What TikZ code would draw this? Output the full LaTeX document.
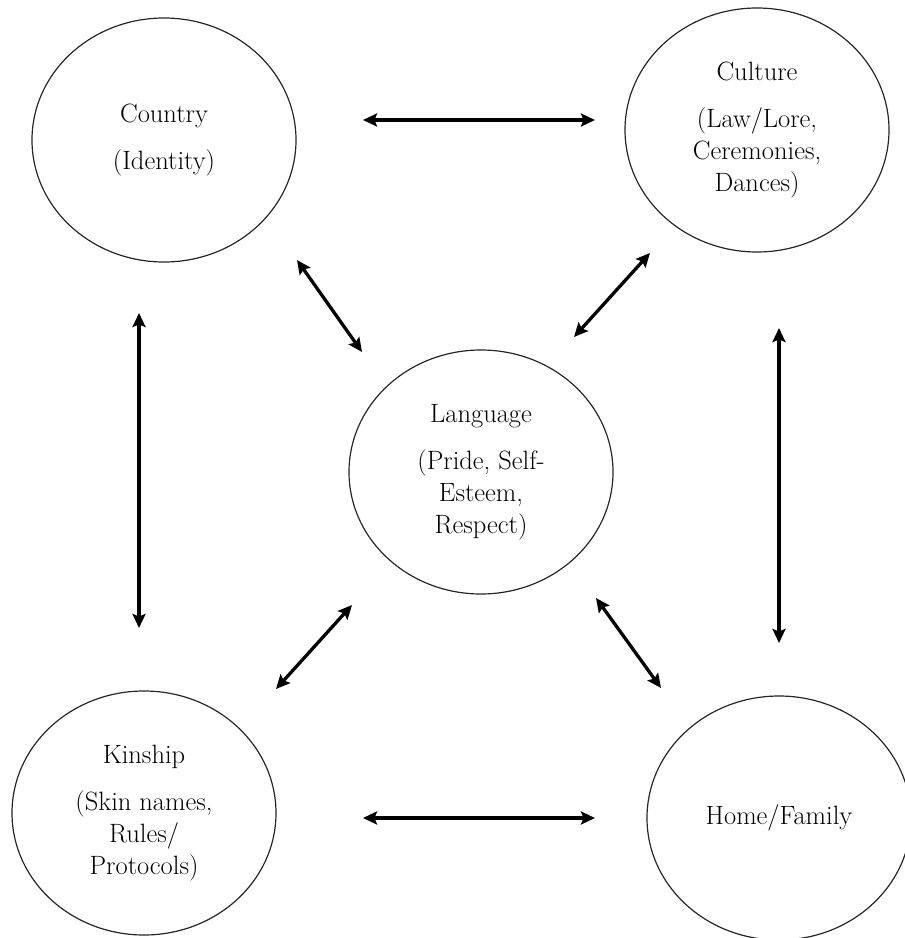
\documentclass[tikz,border=0pt]{standalone}
\usetikzlibrary{shapes.geometric,arrows.meta}
\begin{document}
\begin{tikzpicture}[x=1pt,y=-1pt,
  bubble/.style={ellipse,draw=black!85,line width=1.2pt,minimum width=264pt,minimum height=244pt,inner sep=0pt,align=center,font=\fontsize{26.5}{32}\selectfont},
  biarrow/.style={{Stealth[length=14pt,width=13pt,inset=2.5pt]}-{Stealth[length=14pt,width=13pt,inset=2.5pt]},line width=3.3pt}]
\useasboundingbox (0,0) rectangle (905,938);
\clip (0,0) rectangle (905,938);
\node[bubble] (country) at (164,140) {Country\\[15pt](Identity)};
\node[bubble] (culture) at (757,130) {Culture\\[15pt](Law/Lore,\\Ceremonies,\\Dances)};
\node[bubble] (language) at (481,472) {Language\\[15pt](Pride, Self-\\Esteem,\\Respect)};
\node[bubble] (kinship) at (144,813) {Kinship\\[15pt](Skin names,\\Rules/\\Protocols)};
\node[bubble] (home) at (779,818) {Home/Family};
% arrow end points
\coordinate (a1) at (363,120); \coordinate (a2) at (595,120);
\coordinate (b1) at (363,818); \coordinate (b2) at (595,818);
\coordinate (c1) at (139,313); \coordinate (c2) at (139,628);
\coordinate (d1) at (779,328); \coordinate (d2) at (779,643);
\coordinate (e1) at (297,260); \coordinate (e2) at (362,352);
\coordinate (f1) at (650,253); \coordinate (f2) at (574,337);
\coordinate (g1) at (352,605); \coordinate (g2) at (276,689);
\coordinate (h1) at (596,598); \coordinate (h2) at (661,688);
\draw[biarrow] (a1) -- (a2);
\draw[biarrow] (b1) -- (b2);
\draw[biarrow] (c1) -- (c2);
\draw[biarrow] (d1) -- (d2);
\draw[biarrow] (e1) -- (e2);
\draw[biarrow] (f1) -- (f2);
\draw[biarrow] (g1) -- (g2);
\draw[biarrow] (h1) -- (h2);
\end{tikzpicture}
\end{document}
